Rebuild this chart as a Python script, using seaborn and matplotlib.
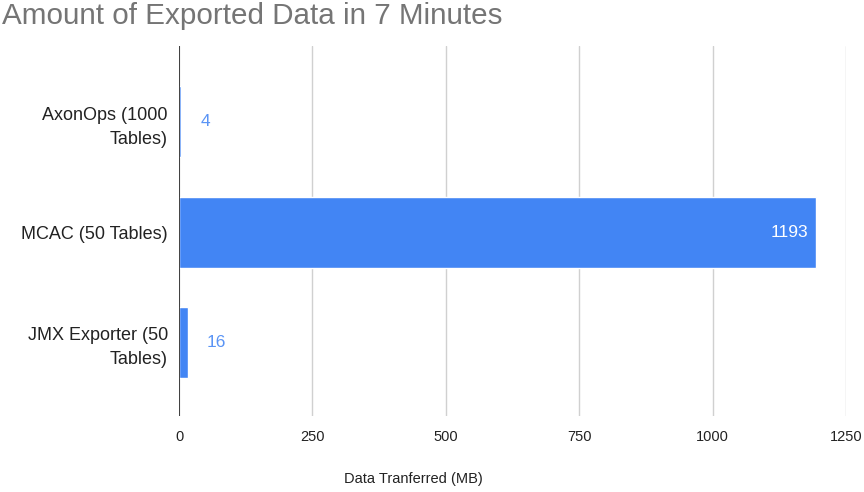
import pandas as pd
import matplotlib.pyplot as plt
import seaborn as sns

# data
categories = ["AxonOps (1000\nTables)", "MCAC (50 Tables)", "JMX Exporter (50\nTables)"]
data_mb = [4, 1193, 16]
x_ticks = [0, 250, 500, 750, 1000, 1250]

df = pd.DataFrame({"tool": categories, "mb": data_mb})

sns.set_theme(style="white")
plt.rcParams["font.family"] = ["Liberation Sans", "DejaVu Sans"]

bar_color = "#4285f4"

fig = plt.figure(figsize=(8.64, 4.92), dpi=100)
ax = fig.add_axes([0.2072, 0.1545, 0.772, 0.752])

sns.barplot(data=df, x="mb", y="tool", orient="h", color=bar_color,
            saturation=1, width=0.645, ax=ax)

# value labels: inside for the long bar, outside otherwise
for patch, val in zip(ax.patches, data_mb):
    y = patch.get_y() + patch.get_height() / 2
    end = patch.get_width()
    if val > 600:
        ax.annotate(str(val), (end, y), xytext=(-5, 0), textcoords="offset points",
                    ha="right", va="center", color="white", fontsize=12.5)
    else:
        ax.annotate(str(val), (end, y), xytext=(14, 0), textcoords="offset points",
                    ha="left", va="center", color="#5a94f5", fontsize=12.5)

ax.set_xlim(0, 1250)
ax.set_ylim(2.67, -0.69)
ax.set_xticks(x_ticks)
ax.set_xticklabels([str(t) for t in x_ticks])

ax.grid(axis="x", color="#d0d0d0", linewidth=1.0)
ax.set_axisbelow(True)
ax.axvline(0, color="#333333", linewidth=1.3, zorder=3)
for s in ax.spines.values():
    s.set_visible(False)

ax.tick_params(axis="y", length=0, pad=8, labelsize=13, labelcolor="#222222")
ax.tick_params(axis="x", length=0, pad=10, labelsize=10.5, labelcolor="#222222")
for lbl in ax.get_yticklabels():
    lbl.set_linespacing(1.55)
ax.set_ylabel("")
ax.set_xlabel("Data Tranferred (MB)", fontsize=10.5, color="#222222")
ax.xaxis.set_label_coords(0.352, -0.152)

fig.text(0.002, 0.995, "Amount of Exported Data in 7 Minutes", ha="left", va="top",
         fontsize=21.3, color="#757575")

fig.savefig("out.png", dpi=100)
